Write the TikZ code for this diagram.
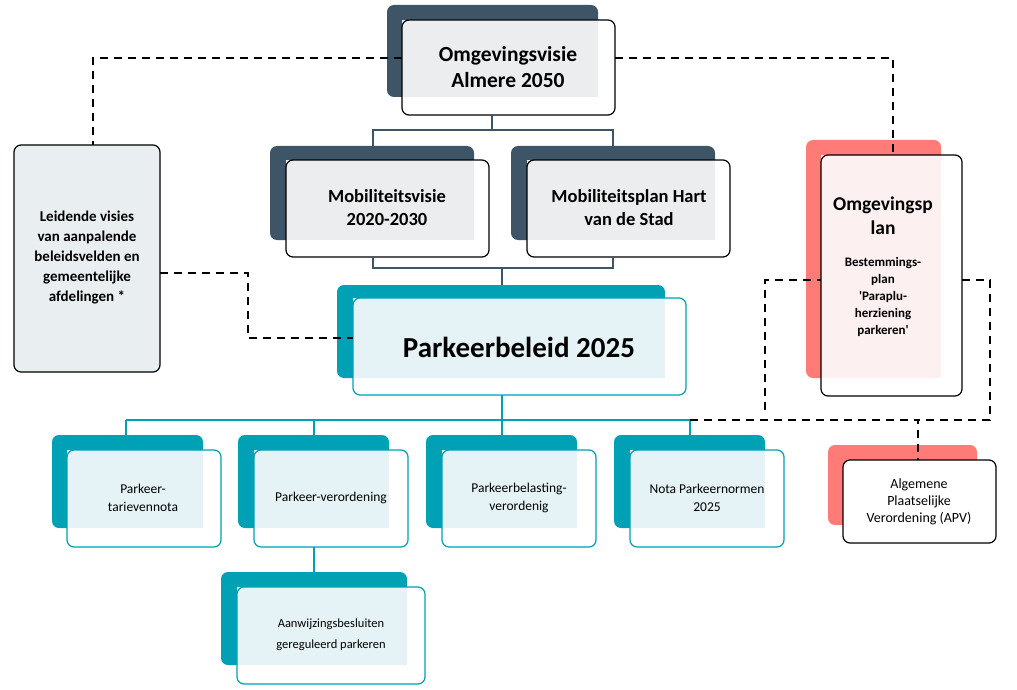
\documentclass[tikz,border=0pt]{standalone}
\usepackage{fontspec}
\setmainfont{Carlito}
\begin{document}
\begin{tikzpicture}[x=1pt,y=-1pt,
  frontbox/.style={draw=black, line width=1.2pt, rounded corners=7pt},
  backbox/.style={rounded corners=7pt, draw=none},
  link/.style={line width=2pt},
  dashline/.style={line width=2.5pt, dash pattern=on 8pt off 6pt}]
\definecolor{slate}{HTML}{3D5566}
\definecolor{teal}{HTML}{00A0B5}
\definecolor{tealfront}{HTML}{E5F3F6}
\definecolor{salmon}{HTML}{FF7B77}
\definecolor{pinkfront}{HTML}{FDF0F0}
\definecolor{greyfront}{HTML}{ECEDEF}
\definecolor{leidfill}{HTML}{E9EEF0}
\useasboundingbox (0,0) rectangle (1017,690);
% top
\fill[backbox,slate] (387,5) rectangle (598,97);
\fill[white,rounded corners=7pt] (402,20) rectangle (615,115);
\fill[greyfront] (402,20) rectangle (598,97);
\draw[frontbox] (402,20) rectangle (615,115);
\node[font=\bfseries\fontsize{21.5}{26}\selectfont,align=center] (ov) at (508,67) {Omgevingsvisie\\Almere 2050};
\coordinate (ovL) at (402,58); \coordinate (ovR) at (615,58); \coordinate (ovB) at (492,115);
% mobiliteit
\foreach \bx/\fx in {270/286, 511/527}{
  \fill[backbox,slate] (\bx,146) rectangle ++(204,94);
  \fill[white,rounded corners=7pt] (\fx,160) rectangle ++(203,97);
  \fill[greyfront] (\fx,160) rectangle (\bx+204,240);
  \draw[frontbox] (\fx,160) rectangle ++(203,97);}
\node[font=\bfseries\fontsize{18.5}{23}\selectfont,align=center] (mv) at (387,208) {Mobiliteitsvisie\\2020-2030};
\node[font=\bfseries\fontsize{18.5}{23}\selectfont,align=center] (mp) at (629,208) {Mobiliteitsplan Hart\\van de Stad};
% leidende
\draw[frontbox,fill=leidfill] (14,145) rectangle (160,372);
\node[font=\bfseries\fontsize{15}{20}\selectfont,align=center] (ld) at (87,258) {Leidende visies\\van aanpalende\\beleidsvelden en\\gemeentelijke\\afdelingen *};
% parkeerbeleid
\fill[backbox,teal] (337,285) rectangle (665,378);
\fill[white,rounded corners=7pt] (353,298) rectangle (686,395);
\fill[tealfront] (353,298) rectangle (665,378);
\draw[frontbox,draw=teal] (353,298) rectangle (686,395);
\node[font=\bfseries\fontsize{29}{34}\selectfont] (pb) at (519,347) {Parkeerbeleid 2025};
% omgevingsplan
\fill[backbox,salmon] (806,140) rectangle (941,378);
\fill[white,rounded corners=7pt] (821,155) rectangle (962,396);
\fill[pinkfront] (821,155) rectangle (941,378);
\draw[frontbox] (821,155) rectangle (962,396);
\node[font=\bfseries\fontsize{19.5}{24}\selectfont,align=center] (op) at (883,216) {Omgevingsp\\lan};
\node[font=\bfseries\fontsize{13}{17}\selectfont,align=center] at (883,297) {Bestemmings-\\plan\\\textquotesingle Paraplu-\\herziening\\parkeren\textquotesingle};
% APV
\fill[backbox,salmon] (828,445) rectangle (977,525);
\fill[white,rounded corners=7pt] (843,460) rectangle (996,543);
\draw[frontbox] (843,460) rectangle (996,543);
\node[font=\fontsize{14}{17}\selectfont,align=center] (apv) at (919,502) {Algemene\\Plaatselijke\\Verordening (APV)};
% bottom row
\foreach \bx/\fx in {52/67, 238/254, 426/442, 614/630}{
  \fill[backbox,teal] (\bx,435) rectangle ++(151,93);
  \fill[white,rounded corners=7pt] (\fx,450) rectangle ++(154,97);
  \fill[tealfront] (\fx,450) rectangle (\bx+151,528);
  \draw[frontbox,draw=teal] (\fx,450) rectangle ++(154,97);}
\node[font=\fontsize{13.5}{18}\selectfont,align=center] (b1) at (143,498) {Parkeer-\\tarievennota};
\node[font=\fontsize{13.5}{18}\selectfont,align=center] (b2) at (331,498) {Parkeer-verordening};
\node[font=\fontsize{13.5}{18}\selectfont,align=center] (b3) at (519,498) {Parkeerbelasting-\\verordenig};
\node[font=\fontsize{13.5}{18}\selectfont,align=center] (b4) at (707,498) {Nota Parkeernormen\\2025};
% aanwijzing
\fill[backbox,teal] (221,572) rectangle (407,665);
\fill[white,rounded corners=7pt] (237,587) rectangle (425,684);
\fill[tealfront] (237,587) rectangle (407,665);
\draw[frontbox,draw=teal] (237,587) rectangle (425,684);
\node[font=\fontsize{12.5}{21}\selectfont,align=center] (aw) at (331,635) {Aanwijzingsbesluiten\\gereguleerd parkeren};
% solid connectors
\draw[link,slate] (ovB) -- (492,130) -| (373,146);
\draw[link,slate] (492,130) -| (613,146);
\draw[link,slate] (373,257) -- (373,268) -| (502,285);
\draw[link,slate] (613,257) -- (613,268) -- (502,268);
\draw[link,teal] (502,395) -- (502,420);
\draw[link,teal] (126,420) -- (690,420);
\foreach \x in {126,314,502,690} \draw[link,teal] (\x,420) -- (\x,435);
\draw[link,teal] (314,547) -- (314,572);
% dashed
\draw[dashline] (ovL) -| (93,145);
\draw[dashline] (ovR) -| (893,155);
\draw[dashline] (160,273) -| (248,338) -- (353,338);
\draw[dashline] (690,420) -- (918,420) -- (918,460);
\draw[dashline] (765,410) -- (765,280) -- (821,280);
\draw[dashline] (962,280) -| (990,420) -- (918,420);
\end{tikzpicture}
\end{document}
